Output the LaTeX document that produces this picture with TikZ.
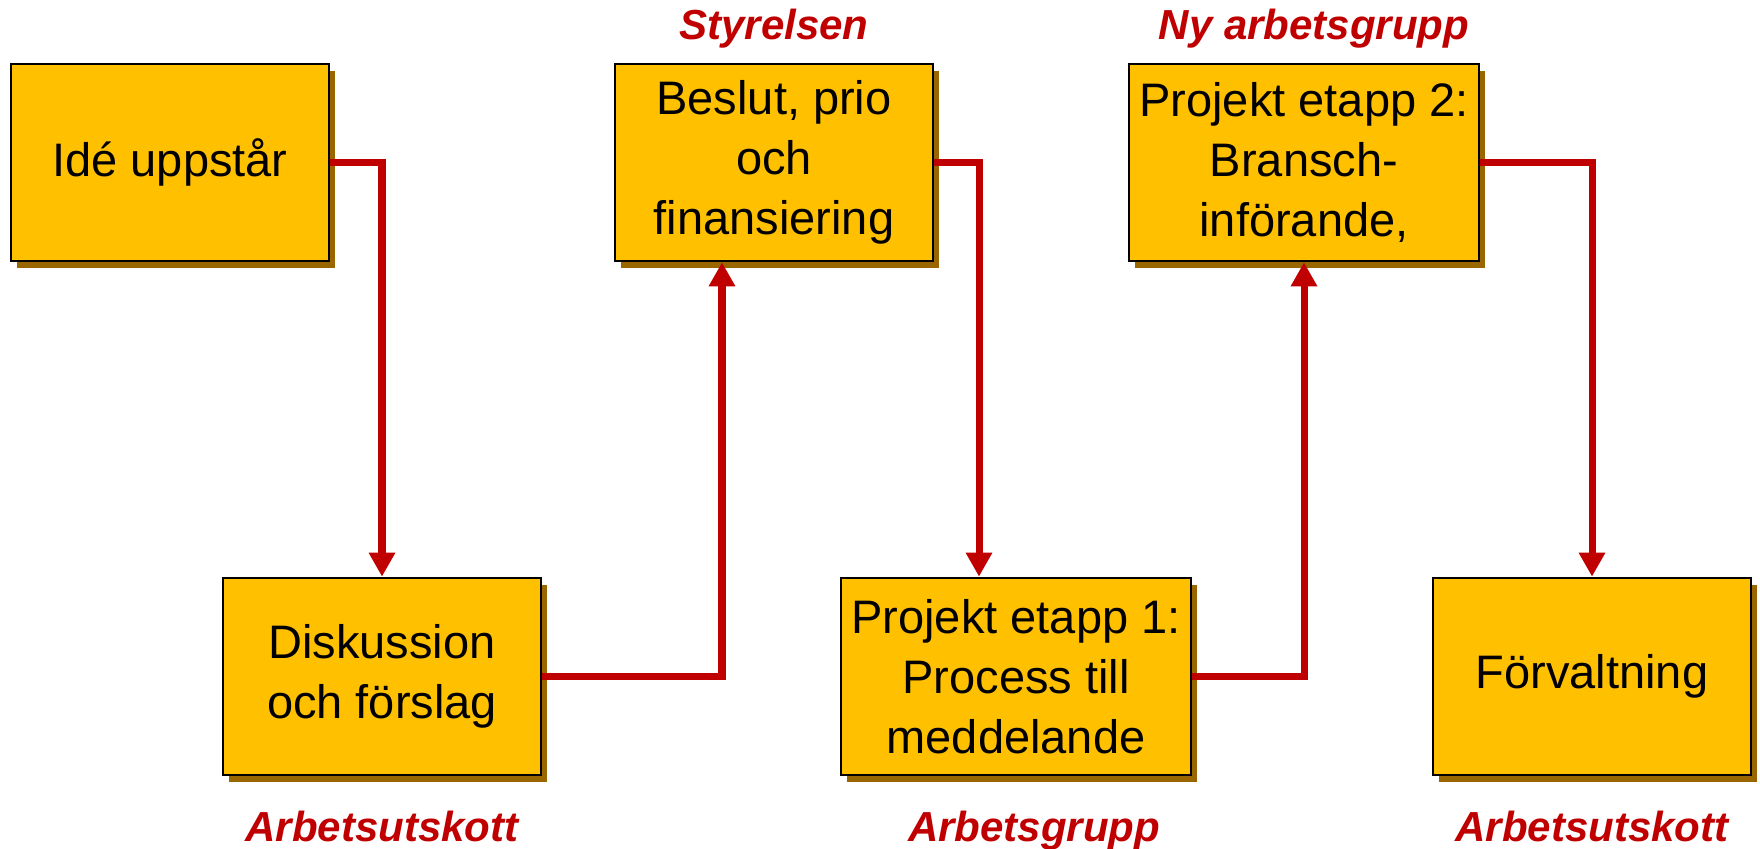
\documentclass[tikz,border=0pt]{standalone}
\usepackage{fontspec}
\setsansfont{Liberation Sans}
\usetikzlibrary{arrows.meta,shadows}

\definecolor{boxgold}{HTML}{FFC000}
\definecolor{shadowbrown}{HTML}{996600}
\definecolor{linered}{HTML}{C00000}

\begin{document}
\begin{tikzpicture}[
    base/.style = {rectangle, draw=black, line width=1.5pt, fill=boxgold,
minimum width=6.36cm, minimum height=3.94cm, inner sep=0pt,
text centered, drop shadow={shadow xshift=0.12cm, shadow yshift=-0.14cm,
fill=shadowbrown, opacity=1}},
    stage/.style = {base, font=\sffamily\fontsize{26.75}{34}\selectfont},
    widestage/.style = {stage, minimum width=7cm},
    role/.style = {anchor=base, text=linered,
font=\sffamily\bfseries\itshape\fontsize{23.9}{28}\selectfont},
    flow/.style = {draw=linered, line width=4pt,
-{Triangle[length=4.8mm, width=5mm]}},
    node distance=12cm, align=center
]
  \useasboundingbox (0,0) rectangle (35.2,16.98);

  \node (idea) [stage] at (3.4,13.73) {Idé uppstår};
  \node (decision) [stage, right of=idea, xshift=0.08cm] {Beslut, prio\\och\\finansiering};
  \node (stage2) [widestage, right of=decision, xshift=-1.4cm] {Projekt etapp 2:\\Bransch-\\införande,};
  \node (discuss) [stage, below of=idea, xshift=4.24cm, yshift=1.72cm] {Diskussion\\och förslag};
  \node (stage1) [widestage, right of=discuss, xshift=0.68cm] {Projekt etapp 1:\\Process till\\meddelande};
  \node (admin) [stage, right of=stage1, xshift=-0.48cm] {Förvaltning};

  \node (board) [role] at ([yshift=0.46cm]decision.north) {Styrelsen};
  \node (newgroup) [role] at ([xshift=0.2cm, yshift=0.46cm]stage2.north) {Ny arbetsgrupp};
  \node (execA) [role] at ([yshift=-1.3cm]discuss.south) {Arbetsutskott};
  \node (group) [role] at ([xshift=0.36cm, yshift=-1.3cm]stage1.south) {Arbetsgrupp};
  \node (execB) [role] at ([yshift=-1.3cm]admin.south) {Arbetsutskott};

  \draw[flow]   (idea.east) -| (discuss.north);
  \draw[flow]   (discuss.east) -| ([xshift=-1.04cm]decision.south);
  \draw[flow]   (decision.east) -| ([xshift=-0.74cm]stage1.north);
  \draw[flow]   (stage1.east) -| (stage2.south);
  \draw[flow]   (stage2.east) -| (admin.north);

\end{tikzpicture}
\end{document}
